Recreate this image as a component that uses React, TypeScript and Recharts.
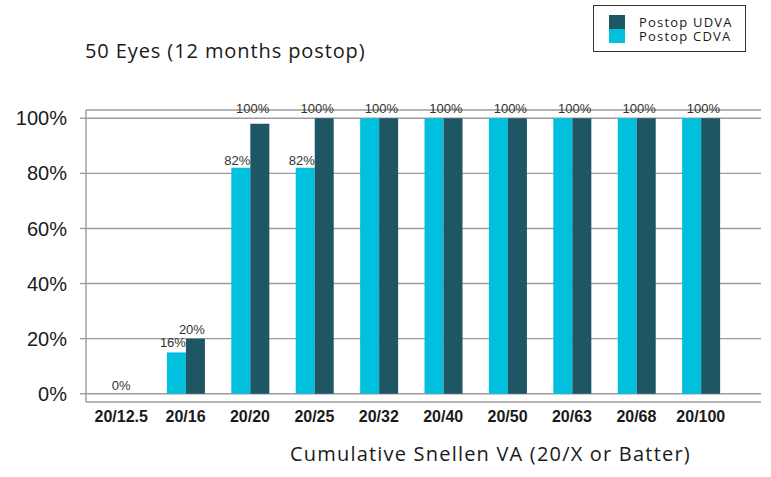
import React from 'react';
import { Bar, BarChart, CartesianGrid, LabelList, ReferenceDot, XAxis, YAxis } from 'recharts';

const categories = ['20/12.5', '20/16', '20/20', '20/25', '20/32', '20/40', '20/50', '20/63', '20/68', '20/100'];
const cdva = [0, 15, 82, 82, 100, 100, 100, 100, 100, 100];
const udva = [0, 20, 98, 100, 100, 100, 100, 100, 100, 100];
const cdvaLabels = ['0%', '16%', '82%', '82%', '', '', '', '', '', ''];
const udvaLabels = ['', '20%', '100%', '100%', '100%', '100%', '100%', '100%', '100%', '100%'];
const yTicks = [0, 20, 40, 60, 80, 100];

const seriesNames = { udva: 'Postop UDVA', cdva: 'Postop CDVA' };
const COLORS = { udva: '#1f5664', cdva: '#00c0de' };
const GEO = '"Open Sans", Lato, sans-serif';
const ARIAL = 'Arial, "Liberation Sans", sans-serif';

const data = categories.map((c, i) => ({ cat: c, cdva: cdva[i], udva: udva[i] }));

function makeLabel(values: number[], labels: string[], gap: number) {
  return function BarLabel(props: any) {
    const vb = props.viewBox ?? props;
    const x = Number(vb.x ?? props.x);
    const y = Number(vb.y ?? props.y);
    const w = Number(vb.width ?? props.width);
    const h = Number(vb.height ?? props.height);
    const idx = categories.indexOf(String(props.value));
    const text = labels[idx];
    const v = values[idx];
    if (!text || !v) return null;
    const unit = h / v;
    return (
      <text x={x + w} y={y + h - parseFloat(text) * unit - gap} textAnchor="end" fontSize={13} fill="#333" fontFamily={ARIAL}>
        {text}
      </text>
    );
  };
}

// zero-height bars get no label from LabelList, so the 0% ones sit on a ReferenceDot
const zeroLabels = categories
  .map((c, i) => ({ cat: c, text: cdvaLabels[i] || udvaLabels[i], zero: cdva[i] === 0 && udva[i] === 0 }))
  .filter((d) => d.zero && d.text);

export default function App() {
  return (
    <div style={{ position: 'relative', width: 771, height: 477, background: '#fff' }}>
      <style>{`body{margin:0}`}</style>
      <div style={{ position: 'absolute', left: 85, top: 38, fontFamily: GEO, fontSize: 20, fontWeight: 500, letterSpacing: 0.9, lineHeight: '26px', color: '#1a1a1a', whiteSpace: 'nowrap' }}>
        50 Eyes (12 months postop)
      </div>
      <div
        style={{
          position: 'absolute', left: 593, top: 5, width: 153, height: 47,
          border: '1.5px solid #333', boxSizing: 'border-box', background: '#fff',
          fontFamily: GEO, fontSize: 13, fontWeight: 500, letterSpacing: 1.2, color: '#1a1a1a',
        }}
      >
        {(['udva', 'cdva'] as const).map((k, i) => (
          <div key={k} style={{ position: 'absolute', left: 15, top: 9 + i * 14, height: 14, display: 'flex', alignItems: 'center' }}>
            <span style={{ display: 'inline-block', width: 16, height: 14, background: COLORS[k] }} />
            <span style={{ marginLeft: 14, lineHeight: '14px', whiteSpace: 'nowrap' }}>{seriesNames[k]}</span>
          </div>
        ))}
      </div>
      <BarChart
        width={771}
        height={477}
        data={data}
        margin={{ top: 110, right: 10, left: 0, bottom: 0 }}
        barCategoryGap="21%"
        barGap={0}
        style={{ position: 'absolute', left: 0, top: 0 }}
      >
        <CartesianGrid vertical={false} stroke="#9c9c9c" strokeWidth={1.4} />
        <XAxis
          dataKey="cat"
          height={75}
          axisLine={false}
          tickLine={false}
          tickSize={0}
          tickMargin={9}
          padding={{ left: 3, right: 28 }}
          interval={0}
          tick={{ fill: '#1a1a1a', fontSize: 16, fontWeight: 700, fontFamily: ARIAL }}
        />
        <YAxis
          width={86}
          domain={[-3, 103]}
          ticks={yTicks}
          allowDataOverflow
          axisLine={{ stroke: '#9c9c9c', strokeWidth: 1.4 }}
          tickLine={{ stroke: '#9c9c9c', strokeWidth: 1.4 }}
          tickSize={6}
          tickMargin={13}
          tickFormatter={(v) => `${v}%`}
          tick={{ fill: '#1a1a1a', fontSize: 20, fontFamily: ARIAL }}
        />
        <Bar dataKey="cdva" fill={COLORS.cdva} isAnimationActive={false}>
          <LabelList valueAccessor={(entry: any) => entry.payload.cat} content={makeLabel(cdva, cdvaLabels, 3)} />
        </Bar>
        <Bar dataKey="udva" fill={COLORS.udva} isAnimationActive={false}>
          <LabelList valueAccessor={(entry: any) => entry.payload.cat} content={makeLabel(udva, udvaLabels, 5)} />
        </Bar>
        {zeroLabels.map((d) => (
          <ReferenceDot
            key={d.cat}
            x={d.cat}
            y={0}
            r={0}
            stroke="none"
            fill="none"
            label={{ value: d.text, position: 'top', offset: 4, fontSize: 13, fill: '#333', fontFamily: ARIAL }}
          />
        ))}
      </BarChart>
      <div style={{ position: 'absolute', left: 290, top: 441, fontFamily: GEO, fontSize: 20, fontWeight: 500, letterSpacing: 1.2, lineHeight: '26px', color: '#1a1a1a', whiteSpace: 'nowrap' }}>
        Cumulative Snellen VA (20/X or Batter)
      </div>
    </div>
  );
}
